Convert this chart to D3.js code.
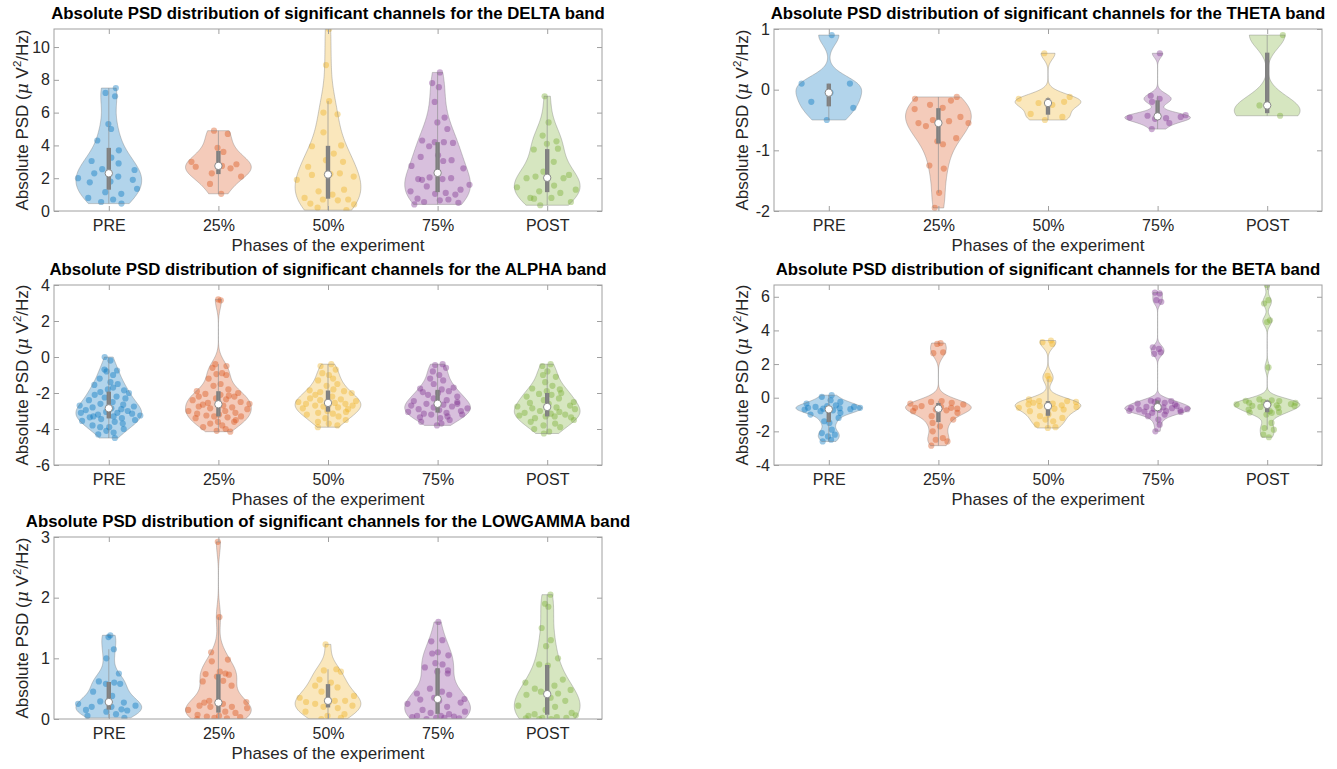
<!DOCTYPE html>
<html>
<head>
<meta charset="utf-8">
<script src="https://cdn.jsdelivr.net/npm/d3@7"></script>
<style>
  body { margin: 0; background: #ffffff; }
  svg text { font-family: "Liberation Sans", Arial, Helvetica, sans-serif; }
</style>
</head>
<body>
<svg id="fig" width="1337" height="769"></svg>
<script>
// ---- categories, colours, ticks ----
const phases = ["PRE", "25%", "50%", "75%", "POST"];
const phaseColors = ["#0072BD", "#D95319", "#EDB120", "#7E2F8E", "#77AC30"];
const bands = ["DELTA", "THETA", "ALPHA", "BETA", "LOWGAMMA"];

const deltaTicks = [0, 2, 4, 6, 8, 10];
const thetaTicks = [-2, -1, 0, 1];
const alphaTicks = [-6, -4, -2, 0, 2, 4];
const betaTicks = [-4, -2, 0, 2, 4, 6];
const lowgammaTicks = [0, 1, 2, 3];

const deltaRange = [0, 11.1];
const thetaRange = [-2, 1];
const alphaRange = [-6, 4];
const betaRange = [-4, 6.7];
const lowgammaRange = [0, 3];

// ---- absolute PSD of significant channels, per phase (PRE, 25%, 50%, 75%, POST) ----
const deltaValues = [
  [0.45, 0.55, 0.7, 0.8, 1.05, 1.15, 1.35, 1.75, 1.8, 1.9, 2.0, 2.1, 2.3, 2.5, 2.55, 2.9, 3.05, 3.25, 3.7, 4.3, 5.0, 5.3, 7.0, 7.2, 7.5],
  [1.05, 1.65, 2.1, 2.3, 2.6, 2.7, 2.75, 2.85, 3.0, 3.6, 3.85, 4.7, 4.9],
  [0.05, 0.2, 0.4, 0.45, 0.65, 0.7, 0.7, 0.8, 1.0, 1.2, 1.3, 1.9, 2.1, 2.2, 2.25, 2.3, 2.7, 3.0, 3.1, 3.5, 3.95, 4.0, 4.8, 5.9, 6.0, 6.7, 8.9, 11.1],
  [0.4, 0.5, 0.55, 0.65, 0.7, 0.75, 1.0, 1.05, 1.1, 1.2, 1.3, 1.5, 1.6, 1.9, 1.95, 1.95, 2.0, 2.05, 2.6, 2.75, 3.05, 3.1, 3.3, 3.4, 3.95, 4.15, 4.2, 4.2, 4.3, 5.0, 5.4, 5.7, 6.65, 7.55, 7.8, 8.45],
  [0.35, 0.55, 0.75, 0.8, 0.8, 1.1, 1.2, 1.3, 1.45, 1.55, 2.0, 2.0, 2.05, 2.1, 2.2, 2.4, 3.0, 3.75, 3.8, 4.1, 4.25, 4.6, 5.4, 7.0]
];
const thetaValues = [
  [-0.5, -0.3, -0.2, -0.05, 0.1, 0.1, 0.9],
  [-1.95, -1.7, -1.3, -1.25, -0.9, -0.85, -0.8, -0.6, -0.55, -0.55, -0.52, -0.5, -0.45, -0.32, -0.3, -0.25, -0.18, -0.15, -0.12],
  [-0.5, -0.45, -0.4, -0.25, -0.22, -0.2, -0.15, -0.12, 0.6],
  [-0.65, -0.55, -0.48, -0.47, -0.46, -0.45, -0.43, -0.42, -0.2, -0.15, -0.1, 0.6],
  [-0.43, -0.26, 0.9]
];
const alphaValues = [
  [0.0, -0.2, -0.7, -0.75, -0.8, -1.0, -1.2, -1.4, -1.5, -1.55, -1.7, -1.8, -1.85, -1.95, -2.0, -2.1, -2.2, -2.25, -2.3, -2.4, -2.5, -2.6, -2.65, -2.7, -2.75, -2.8, -2.85, -2.9, -2.95, -3.0, -3.05, -3.1, -3.1, -3.15, -3.2, -3.25, -3.3, -3.3, -3.35, -3.4, -3.45, -3.5, -3.55, -3.6, -3.7, -3.8, -3.9, -3.9, -4.0, -4.1, -4.2, -4.3, -4.5],
  [3.2, 3.15, -0.4, -0.5, -0.6, -0.9, -0.95, -1.0, -1.2, -1.5, -1.6, -1.8, -1.9, -2.0, -2.05, -2.1, -2.15, -2.2, -2.2, -2.3, -2.35, -2.4, -2.5, -2.55, -2.6, -2.65, -2.7, -2.75, -2.8, -2.85, -2.9, -3.0, -3.0, -3.1, -3.15, -3.2, -3.25, -3.3, -3.3, -3.35, -3.4, -3.5, -3.6, -3.6, -3.7, -3.8, -3.9, -4.0, -4.1, -4.15],
  [-0.4, -0.5, -0.7, -0.9, -1.0, -1.2, -1.3, -1.5, -1.6, -1.8, -1.85, -1.9, -1.95, -2.0, -2.1, -2.2, -2.3, -2.35, -2.4, -2.45, -2.5, -2.55, -2.6, -2.6, -2.65, -2.7, -2.7, -2.75, -2.8, -2.85, -2.9, -3.0, -3.05, -3.1, -3.15, -3.2, -3.3, -3.4, -3.5, -3.6, -3.7, -3.8, -3.9],
  [-0.4, -0.45, -0.6, -0.8, -1.0, -1.2, -1.3, -1.5, -1.7, -1.75, -1.8, -1.9, -1.95, -2.0, -2.1, -2.2, -2.3, -2.4, -2.45, -2.5, -2.55, -2.6, -2.6, -2.65, -2.7, -2.75, -2.8, -2.85, -2.9, -2.95, -3.0, -3.05, -3.1, -3.15, -3.2, -3.2, -3.3, -3.35, -3.4, -3.5, -3.6, -3.7, -3.8],
  [-0.4, -0.5, -0.8, -1.0, -1.1, -1.4, -1.6, -1.75, -1.8, -1.9, -2.0, -2.05, -2.1, -2.2, -2.3, -2.4, -2.5, -2.55, -2.6, -2.7, -2.75, -2.8, -2.85, -2.9, -3.0, -3.05, -3.1, -3.15, -3.2, -3.25, -3.3, -3.3, -3.35, -3.4, -3.5, -3.6, -3.7, -3.8, -3.9, -4.0, -4.15, -4.25]
];
const betaValues = [
  [0.15, 0.05, -0.15, -0.25, -0.35, -0.45, -0.5, -0.55, -0.55, -0.6, -0.6, -0.62, -0.65, -0.68, -0.7, -0.75, -0.8, -0.9, -1.0, -1.2, -1.4, -1.5, -1.9, -2.1, -2.2, -2.3, -2.5, -2.6],
  [3.25, 3.2, 2.7, 2.65, -0.2, -0.25, -0.3, -0.35, -0.4, -0.5, -0.55, -0.6, -0.6, -0.65, -0.7, -0.75, -0.8, -0.9, -1.1, -1.3, -1.5, -1.7, -2.0, -2.4, -2.5, -2.6, -2.85],
  [3.4, 3.3, 3.2, 1.3, 1.1, -0.1, -0.2, -0.2, -0.25, -0.3, -0.35, -0.4, -0.45, -0.5, -0.55, -0.6, -0.65, -0.7, -0.8, -1.0, -1.1, -1.2, -1.3, -1.4, -1.6, -1.75, -1.8],
  [6.25, 6.2, 5.8, 5.7, 3.0, 2.9, 2.7, 2.6, -0.15, -0.18, -0.2, -0.25, -0.3, -0.35, -0.4, -0.45, -0.5, -0.55, -0.57, -0.6, -0.62, -0.65, -0.68, -0.7, -0.72, -0.75, -0.78, -0.8, -0.82, -0.85, -0.9, -1.0, -1.1, -1.3, -1.6, -2.0],
  [6.7, 5.8, 5.6, 4.6, 4.5, 1.8, -0.1, -0.15, -0.18, -0.2, -0.25, -0.3, -0.3, -0.35, -0.38, -0.4, -0.45, -0.48, -0.5, -0.55, -0.6, -0.7, -0.8, -0.85, -0.88, -0.9, -1.0, -1.5, -1.8, -1.9, -2.2, -2.35]
];
const lowgammaValues = [
  [1.38, 1.35, 1.15, 1.0, 0.75, 0.62, 0.6, 0.58, 0.58, 0.45, 0.38, 0.29, 0.27, 0.25, 0.22, 0.2, 0.2, 0.16, 0.15, 0.14, 0.12, 0.08, 0.05, 0.02],
  [2.92, 1.68, 1.1, 0.98, 0.95, 0.78, 0.75, 0.74, 0.73, 0.7, 0.63, 0.62, 0.55, 0.3, 0.28, 0.27, 0.25, 0.22, 0.2, 0.2, 0.18, 0.15, 0.12, 0.1, 0.07, 0.05, 0.04, 0.03, 0.02, 0.01, 0.0],
  [1.23, 0.82, 0.8, 0.78, 0.65, 0.6, 0.55, 0.52, 0.45, 0.38, 0.35, 0.3, 0.3, 0.28, 0.27, 0.25, 0.22, 0.2, 0.18, 0.12, 0.08, 0.05, 0.02, 0.0],
  [1.6, 1.3, 1.28, 1.1, 1.08, 1.05, 0.92, 0.9, 0.85, 0.8, 0.78, 0.75, 0.5, 0.45, 0.42, 0.4, 0.35, 0.33, 0.32, 0.3, 0.27, 0.25, 0.2, 0.15, 0.12, 0.1, 0.08, 0.05, 0.05, 0.04, 0.03, 0.02, 0.02, 0.01, 0.0],
  [2.05, 1.9, 1.85, 1.5, 1.3, 1.2, 1.0, 0.9, 0.88, 0.65, 0.6, 0.55, 0.5, 0.48, 0.45, 0.42, 0.4, 0.35, 0.3, 0.22, 0.2, 0.15, 0.1, 0.08, 0.06, 0.05, 0.03, 0.02, 0.02, 0.01, 0.0, 0.0]
];

// fixed horizontal spread of the data points, as a fraction of the local violin half-width
const jitterTable = [0.62, -0.35, 0.18, -0.81, 0.44, -0.12, 0.91, -0.58, 0.05, 0.73, -0.94, 0.29, -0.46, 0.85, -0.22, 0.37,
  -0.69, 0.11, 0.56, -0.88, 0.24, -0.05, 0.78, -0.41, 0.95, -0.63, 0.33, -0.17, 0.67, -0.76, 0.14, -0.29,
  0.49, -0.97, 0.82, -0.52, 0.08, 0.39, -0.71, 0.58, -0.08, 0.26, -0.85, 0.71, -0.33, 0.97, -0.48, 0.15,
  -0.6, 0.42, -0.25, 0.88, -0.92, 0.21, 0.53, -0.67, 0.02, -0.39, 0.75, -0.14, 0.31, -0.79, 0.64, -0.02];

// ---- layout ----
const panelLeft = [54, 774, 54, 774, 54];
const panelTop = [29, 29, 285, 285, 537];
const panelHeight = [182, 182, 180, 180, 182];
const panelWidth = 548;

const panelValues = [deltaValues, thetaValues, alphaValues, betaValues, lowgammaValues];
const panelTicks = [deltaTicks, thetaTicks, alphaTicks, betaTicks, lowgammaTicks];
const panelRanges = [deltaRange, thetaRange, alphaRange, betaRange, lowgammaRange];

const VIOLIN_HALF = 0.3;   // widest half-width, in category units
const BOX_HALF = 0.02;
const GRID_N = 100;

// ---- statistics helpers (same conventions as MATLAB quantile/ksdensity) ----
function quantileM(sorted, p) {
  const n = sorted.length;
  const pos = n * p + 0.5;
  if (pos <= 1) return sorted[0];
  if (pos >= n) return sorted[n - 1];
  const lo = Math.floor(pos);
  const f = pos - lo;
  return sorted[lo - 1] + f * (sorted[lo] - sorted[lo - 1]);
}
function defaultBandwidth(vals) {
  const med = d3.median(vals);
  let sig = d3.median(vals.map(v => Math.abs(v - med))) / 0.6745;
  if (!(sig > 0)) sig = d3.max(vals) - d3.min(vals);
  return sig * Math.pow(4 / (3 * vals.length), 0.2);
}
function density(vals, bw, y) {
  let s = 0;
  for (const v of vals) { const z = (y - v) / bw; s += Math.exp(-0.5 * z * z); }
  return s / (vals.length * bw * Math.sqrt(2 * Math.PI));
}
function violinStats(vals) {
  const sorted = vals.slice().sort((a, b) => a - b);
  const lo = sorted[0], hi = sorted[sorted.length - 1];
  const bw = defaultBandwidth(sorted);
  const ys = d3.range(GRID_N).map(i => lo + (hi - lo) * i / (GRID_N - 1));
  const ds = ys.map(y => density(sorted, bw, y));
  const scale = VIOLIN_HALF / d3.max(ds);
  const half = ds.map(d => d * scale);
  const q1 = quantileM(sorted, 0.25), q2 = quantileM(sorted, 0.5), q3 = quantileM(sorted, 0.75);
  const iqr = q3 - q1;
  let wLo = q1 - 1.5 * iqr; wLo = Math.max(wLo, d3.min(sorted.filter(v => v > wLo)));
  let wHi = q3 + 1.5 * iqr; wHi = Math.min(wHi, d3.max(sorted.filter(v => v < wHi)));
  const halfAt = y => {
    if (y <= lo) return half[0];
    if (y >= hi) return half[GRID_N - 1];
    const t = (y - lo) / (hi - lo) * (GRID_N - 1);
    const i = Math.floor(t), f = t - i;
    return half[i] + f * (half[Math.min(i + 1, GRID_N - 1)] - half[i]);
  };
  return { sorted, lo, hi, ys, half, q1, q2, q3, wLo, wHi, halfAt };
}

const svg = d3.select("#fig");

function drawPanel(p) {
  const left = panelLeft[p], top = panelTop[p], h = panelHeight[p];
  const x = d3.scaleLinear().domain([0.5, 5.5]).range([left, left + panelWidth]);
  const y = d3.scaleLinear().domain(panelRanges[p]).range([top + h, top]);
  const g = svg.append("g").attr("class", "panel-" + bands[p].toLowerCase());

  const clipId = "clip-" + p;
  g.append("clipPath").attr("id", clipId)
    .append("rect").attr("x", left).attr("y", top).attr("width", panelWidth).attr("height", h);
  const plot = g.append("g").attr("clip-path", `url(#${clipId})`);

  panelValues[p].forEach((vals, k) => {
    const pos = k + 1;
    const st = violinStats(vals);
    const col = phaseColors[k];

    // individual channels
    plot.append("g").selectAll("circle")
      .data(vals)
      .join("circle")
      .attr("cx", (v, i) => x(pos + jitterTable[(i + k * 11 + p * 5) % jitterTable.length] * st.halfAt(v)))
      .attr("cy", v => y(v))
      .attr("r", 3.1)
      .attr("fill", col)
      .attr("fill-opacity", 0.4);

    // density outline, flat at the extreme values
    const outline = [[pos, st.lo]]
      .concat(st.ys.map((yy, i) => [pos + st.half[i], yy]))
      .concat([[pos, st.hi]])
      .concat(st.ys.slice().reverse().map((yy, i) => [pos - st.half[GRID_N - 1 - i], yy]))
      .concat([[pos, st.lo]]);
    plot.append("path")
      .attr("d", d3.line().x(d => x(d[0])).y(d => y(d[1]))(outline))
      .attr("fill", col)
      .attr("fill-opacity", 0.3)
      .attr("stroke", "#7a7a7a")
      .attr("stroke-opacity", 0.55)
      .attr("stroke-width", 0.7);

    // interquartile bar
    plot.append("rect")
      .attr("x", x(pos - BOX_HALF))
      .attr("width", x(pos + BOX_HALF) - x(pos - BOX_HALF))
      .attr("y", y(st.q3))
      .attr("height", y(st.q1) - y(st.q3))
      .attr("fill", "#808080");

    // whiskers
    plot.append("line")
      .attr("x1", x(pos)).attr("x2", x(pos))
      .attr("y1", y(st.wLo)).attr("y2", y(st.wHi))
      .attr("stroke", "#8c8c8c")
      .attr("stroke-opacity", 0.8)
      .attr("stroke-width", 0.8);

    // median
    plot.append("circle")
      .attr("cx", x(pos)).attr("cy", y(st.q2))
      .attr("r", 3.7)
      .attr("fill", "#ffffff")
      .attr("stroke", "#808080")
      .attr("stroke-width", 0.9);
  });

  // axes frame
  g.append("rect")
    .attr("x", left).attr("y", top).attr("width", panelWidth).attr("height", h)
    .attr("fill", "none").attr("stroke", "#a0a0a0").attr("stroke-width", 1);

  const styleAxis = sel => {
    sel.select(".domain").remove();
    sel.selectAll(".tick line").attr("stroke", "#a0a0a0");
    sel.selectAll(".tick text").attr("fill", "#262626").style("font-size", "16px");
  };

  g.append("g").attr("transform", `translate(0,${top + h})`)
    .call(d3.axisBottom(x).tickValues([1, 2, 3, 4, 5]).tickFormat(d => phases[d - 1]).tickSizeInner(-5).tickSizeOuter(0).tickPadding(9))
    .call(styleAxis);
  g.append("g").attr("transform", `translate(0,${top})`)
    .call(d3.axisTop(x).tickValues([1, 2, 3, 4, 5]).tickFormat("").tickSizeInner(-5).tickSizeOuter(0))
    .call(styleAxis);
  g.append("g").attr("transform", `translate(${left},0)`)
    .call(d3.axisLeft(y).tickValues(panelTicks[p]).tickFormat(d3.format("d")).tickSizeInner(-5).tickSizeOuter(0).tickPadding(4))
    .call(styleAxis);
  g.append("g").attr("transform", `translate(${left + panelWidth},0)`)
    .call(d3.axisRight(y).tickValues(panelTicks[p]).tickFormat("").tickSizeInner(-5).tickSizeOuter(0))
    .call(styleAxis);
  g.selectAll(".tick text").text(function () { return this.textContent.replace("\u2212", "-"); });

  // title
  g.append("text")
    .attr("x", left + panelWidth / 2).attr("y", top - 10)
    .attr("text-anchor", "middle")
    .attr("font-weight", "bold")
    .style("font-size", "16.8px")
    .attr("fill", "#000")
    .text(`Absolute PSD distribution of significant channels for the ${bands[p]} band`);

  // x label
  g.append("text")
    .attr("x", left + panelWidth / 2).attr("y", top + h + 40)
    .attr("text-anchor", "middle")
    .style("font-size", "17px")
    .attr("fill", "#262626")
    .text("Phases of the experiment");

  // y label
  const yl = g.append("text")
    .attr("transform", `translate(${left - 26},${top + h / 2}) rotate(-90)`)
    .attr("text-anchor", "middle")
    .style("font-size", "17px")
    .attr("fill", "#262626");
  yl.append("tspan").text("Absolute PSD (");
  yl.append("tspan").attr("font-family", "DejaVu Serif").attr("font-style", "italic").text("\u03bc");
  yl.append("tspan").text(" V");
  yl.append("tspan").attr("dy", -7).style("font-size", "11.5px").text("2");
  yl.append("tspan").attr("dy", 7).text("/Hz)");
}

for (let p = 0; p < bands.length; p++) drawPanel(p);
</script>
</body>
</html>
